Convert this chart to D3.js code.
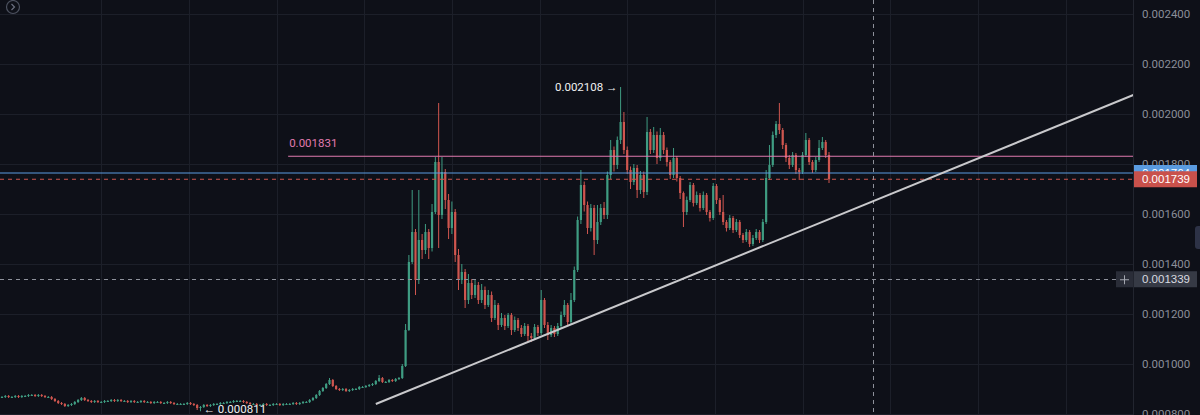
<!DOCTYPE html>
<html>
<head>
<meta charset="utf-8">
<script src="https://cdn.jsdelivr.net/npm/d3@7/dist/d3.min.js"></script>
<style>
    html, body { margin: 0; padding: 0; background: #0e1018; overflow: hidden; }
    svg { display: block; font-family: Roboto, "Liberation Sans", sans-serif; }
</style>
</head>
<body>
<div id="chart"></div>
<script>
// candle data; each candle opens at the previous close
const firstOpen = 0.000868;

const closes = [
    0.000868,0.000872,0.000868,0.000868,0.000872,0.000868,0.000872,0.000872,0.000876,0.000876,
    0.000872,0.000876,0.000872,0.000868,0.000868,0.000860,0.000852,0.000844,0.000840,0.000832,
    0.000836,0.000840,0.000848,0.000856,0.000864,0.000856,0.000852,0.000848,0.000852,0.000848,
    0.000848,0.000852,0.000852,0.000856,0.000852,0.000856,0.000852,0.000852,0.000848,0.000852,
    0.000848,0.000848,0.000852,0.000848,0.000848,0.000844,0.000848,0.000848,0.000844,0.000844,
    0.000848,0.000844,0.000840,0.000840,0.000840,0.000840,0.000844,0.000840,0.000836,0.000824,
    0.000828,0.000836,0.000832,0.000836,0.000840,0.000840,0.000844,0.000844,0.000848,0.000848,
    0.000852,0.000852,0.000852,0.000848,0.000844,0.000840,0.000840,0.000836,0.000836,0.000840,
    0.000836,0.000836,0.000840,0.000840,0.000836,0.000840,0.000840,0.000840,0.000844,0.000840,
    0.000844,0.000848,0.000848,0.000856,0.000864,0.000876,0.000892,0.000904,0.000920,0.000936,
    0.000912,0.000900,0.000896,0.000900,0.000892,0.000896,0.000900,0.000900,0.000908,0.000908,
    0.000912,0.000916,0.000920,0.000932,0.000944,0.000928,0.000928,0.000936,0.000932,0.000940,
    0.000944,0.000992,0.001136,0.001408,0.001528,0.001336,0.001496,0.001456,0.001528,0.001464,
    0.001608,0.001808,0.001596,0.001768,0.001656,0.001544,0.001608,0.001436,0.001336,0.001368,
    0.001256,0.001324,0.001276,0.001316,0.001256,0.001296,0.001236,0.001276,0.001184,0.001236,
    0.001156,0.001184,0.001152,0.001196,0.001136,0.001176,0.001144,0.001120,0.001152,0.001112,
    0.001104,0.001148,0.001124,0.001256,0.001156,0.001116,0.001144,0.001120,0.001152,0.001196,
    0.001236,0.001168,0.001256,0.001376,0.001576,0.001716,0.001636,0.001544,0.001624,0.001496,
    0.001568,0.001624,0.001596,0.001756,0.001856,0.001796,0.001896,0.001968,0.001856,0.001776,
    0.001728,0.001784,0.001696,0.001756,0.001688,0.001928,0.001856,0.001916,0.001824,0.001916,
    0.001856,0.001808,0.001756,0.001824,0.001744,0.001684,0.001608,0.001656,0.001716,0.001644,
    0.001676,0.001624,0.001676,0.001608,0.001584,0.001712,0.001656,0.001608,0.001568,0.001544,
    0.001584,0.001536,0.001568,0.001516,0.001496,0.001528,0.001480,0.001504,0.001528,0.001496,
    0.001568,0.001744,0.001796,0.001916,0.001960,0.001936,0.001876,0.001824,0.001796,0.001836,
    0.001776,0.001768,0.001836,0.001896,0.001808,0.001776,0.001816,0.001864,0.001888,0.001836,0.001739
];

const highs = [
    0.000872,0.000876,0.000876,0.000872,0.000876,0.000876,0.000876,0.000876,0.000880,0.000880,
    0.000880,0.000880,0.000880,0.000876,0.000872,0.000872,0.000864,0.000856,0.000848,0.000844,
    0.000840,0.000844,0.000852,0.000860,0.000868,0.000868,0.000860,0.000856,0.000856,0.000856,
    0.000852,0.000856,0.000856,0.000860,0.000860,0.000860,0.000860,0.000856,0.000856,0.000856,
    0.000856,0.000852,0.000856,0.000856,0.000852,0.000852,0.000852,0.000852,0.000852,0.000848,
    0.000852,0.000852,0.000848,0.000844,0.000844,0.000844,0.000848,0.000848,0.000844,0.000840,
    0.000832,0.000840,0.000840,0.000840,0.000844,0.000844,0.000848,0.000848,0.000852,0.000852,
    0.000856,0.000856,0.000856,0.000856,0.000852,0.000848,0.000844,0.000844,0.000840,0.000844,
    0.000844,0.000840,0.000844,0.000844,0.000844,0.000844,0.000844,0.000844,0.000848,0.000848,
    0.000848,0.000852,0.000852,0.000860,0.000868,0.000880,0.000896,0.000908,0.000924,0.000944,
    0.000940,0.000916,0.000904,0.000904,0.000904,0.000900,0.000904,0.000904,0.000912,0.000912,
    0.000916,0.000920,0.000924,0.000936,0.000956,0.000948,0.000932,0.000940,0.000940,0.000944,
    0.000948,0.001000,0.001160,0.001436,0.001696,0.001540,0.001696,0.001520,0.001560,0.001540,
    0.001640,0.001828,0.002044,0.001828,0.001780,0.001680,0.001650,0.001620,0.001460,0.001400,
    0.001380,0.001360,0.001340,0.001340,0.001328,0.001320,0.001310,0.001296,0.001290,0.001256,
    0.001244,0.001204,0.001196,0.001204,0.001204,0.001190,0.001184,0.001156,0.001164,0.001160,
    0.001124,0.001160,0.001156,0.001296,0.001264,0.001168,0.001156,0.001152,0.001164,0.001210,
    0.001256,0.001244,0.001284,0.001390,0.001590,0.001776,0.001730,0.001650,0.001640,0.001636,
    0.001636,0.001640,0.001648,0.001770,0.001896,0.001870,0.001910,0.002108,0.002008,0.001870,
    0.001790,0.001800,0.001796,0.001772,0.001770,0.001988,0.001940,0.001948,0.001930,0.001944,
    0.001928,0.001866,0.001816,0.001864,0.001832,0.001752,0.001690,0.001670,0.001728,0.001724,
    0.001690,0.001684,0.001690,0.001684,0.001616,0.001724,0.001720,0.001664,0.001676,0.001576,
    0.001596,0.001592,0.001580,0.001576,0.001524,0.001540,0.001536,0.001516,0.001540,0.001536,
    0.001580,0.001776,0.001876,0.001930,0.001972,0.002044,0.001944,0.001884,0.001836,0.001848,
    0.001844,0.001784,0.001848,0.001924,0.001904,0.001816,0.001828,0.001896,0.001908,0.001896,0.001848
];

const lows = [
    0.000864,0.000864,0.000864,0.000864,0.000864,0.000864,0.000864,0.000868,0.000868,0.000872,
    0.000868,0.000868,0.000868,0.000864,0.000864,0.000856,0.000848,0.000840,0.000836,0.000828,
    0.000828,0.000832,0.000836,0.000844,0.000852,0.000852,0.000848,0.000844,0.000844,0.000844,
    0.000844,0.000844,0.000848,0.000848,0.000848,0.000848,0.000848,0.000848,0.000844,0.000844,
    0.000844,0.000844,0.000844,0.000844,0.000844,0.000840,0.000840,0.000844,0.000840,0.000840,
    0.000840,0.000840,0.000836,0.000836,0.000836,0.000836,0.000836,0.000836,0.000832,0.000816,
    0.000811,0.000824,0.000828,0.000828,0.000832,0.000836,0.000836,0.000840,0.000840,0.000844,
    0.000844,0.000848,0.000848,0.000844,0.000840,0.000836,0.000836,0.000832,0.000832,0.000832,
    0.000832,0.000832,0.000832,0.000836,0.000832,0.000832,0.000836,0.000836,0.000836,0.000836,
    0.000836,0.000840,0.000844,0.000844,0.000852,0.000860,0.000872,0.000888,0.000900,0.000916,
    0.000908,0.000896,0.000892,0.000892,0.000888,0.000888,0.000892,0.000896,0.000896,0.000904,
    0.000904,0.000908,0.000912,0.000916,0.000928,0.000924,0.000924,0.000924,0.000928,0.000928,
    0.000936,0.000940,0.000988,0.001132,0.001400,0.001276,0.001320,0.001420,0.001440,0.001420,
    0.001450,0.001600,0.001464,0.001580,0.001620,0.001500,0.001520,0.001408,0.001296,0.001320,
    0.001224,0.001240,0.001260,0.001264,0.001240,0.001244,0.001220,0.001228,0.001168,0.001176,
    0.001136,0.001148,0.001136,0.001144,0.001116,0.001128,0.001132,0.001108,0.001112,0.001092,
    0.001088,0.001096,0.001112,0.001116,0.001144,0.001096,0.001108,0.001108,0.001112,0.001144,
    0.001188,0.001156,0.001160,0.001248,0.001368,0.001560,0.001610,0.001520,0.001530,0.001436,
    0.001480,0.001556,0.001580,0.001580,0.001740,0.001770,0.001780,0.001880,0.001840,0.001760,
    0.001700,0.001716,0.001664,0.001680,0.001664,0.001676,0.001840,0.001844,0.001800,0.001812,
    0.001840,0.001790,0.001740,0.001744,0.001730,0.001660,0.001548,0.001596,0.001648,0.001630,
    0.001636,0.001610,0.001616,0.001596,0.001570,0.001576,0.001640,0.001596,0.001556,0.001530,
    0.001536,0.001524,0.001528,0.001504,0.001484,0.001488,0.001468,0.001472,0.001496,0.001484,
    0.001488,0.001560,0.001736,0.001788,0.001904,0.001920,0.001860,0.001808,0.001780,0.001788,
    0.001760,0.001736,0.001760,0.001828,0.001796,0.001764,0.001768,0.001808,0.001856,0.001824,0.001724
];

// price axis ticks and vertical time grid (in bar index units)
const priceTicks = [0.0024, 0.0022, 0.0020, 0.0018, 0.0016, 0.0014, 0.0012, 0.0010, 0.0008];
const timeGrid = [30, 56.5, 83, 109.5, 136, 162.5, 189, 215.5, 242, 268.5, 295, 321.5];

// drawings on the chart
const horizontalLevel = 0.001831;
const horizontalLevelStartBar = 86.5;
const bidPrice = 0.001764;
const lastPrice = 0.001739;
const crosshairPrice = 0.001339;
const crosshairBar = 263.3;
const trendBars = [113, 342];
const trendPrices = [0.000840, 0.002076];

class CandleChart {
    /**
     * class constructor with basic chart configuration
     */
    constructor(_config, _data) {
        this.config = {
            parentElement: _config.parentElement,
            containerWidth: _config.containerWidth || 1200,
            containerHeight: _config.containerHeight || 415,
            plotRight: _config.plotRight || 1133,
        };
        this.data = _data;
        this.initVis();
    }

    initVis() {
        let vis = this;

        vis.width = vis.config.plotRight;
        vis.height = vis.config.containerHeight;

        vis.svg = d3.select(vis.config.parentElement)
            .append('svg')
            .attr('width', vis.config.containerWidth)
            .attr('height', vis.config.containerHeight);

        vis.svg.append('rect')
            .attr('width', vis.config.containerWidth)
            .attr('height', vis.config.containerHeight)
            .attr('fill', '#0e1018');

        vis.svg.append('clipPath').attr('id', 'plot-clip')
            .append('rect')
            .attr('width', vis.width)
            .attr('height', vis.height);

        // bar index -> x, the last candle sits around x=829
        vis.xScale = d3.scaleLinear()
            .domain([0, 250])
            .range([2, 829]);

        vis.yScale = d3.scaleLinear()
            .domain([0.0008, 0.0024])
            .range([414, 14]);

        vis.gridG = vis.svg.append('g').attr('class', 'grid');
        vis.chart = vis.svg.append('g').attr('clip-path', 'url(#plot-clip)');
        vis.axisG = vis.svg.append('g')
            .attr('class', 'axis y-axis')
            .attr('transform', `translate(${vis.width},0)`);

        vis.yAxis = d3.axisRight(vis.yScale)
            .tickValues(priceTicks)
            .tickFormat(d3.format('.6f'))
            .tickSize(0)
            .tickPadding(9);
    }

    updateVis() {
        let vis = this;

        // build ohlc rows, the open is the previous close
        vis.candles = vis.data.closes.map((c, i) => ({
            i: i,
            open: i === 0 ? firstOpen : vis.data.closes[i - 1],
            close: c,
            high: vis.data.highs[i],
            low: vis.data.lows[i],
        }));

        vis.highIdx = d3.maxIndex(vis.candles, d => d.high);
        vis.lowIdx = d3.minIndex(vis.candles, d => d.low);

        vis.renderVis();
    }

    renderVis() {
        let vis = this;
        const x = vis.xScale, y = vis.yScale;
        const up = '#3f9c82', down = '#cf564f';

        // grid
        vis.gridG.selectAll('.vgrid')
            .data(timeGrid)
            .join('line')
            .attr('class', 'vgrid')
            .attr('x1', d => Math.round(x(d)) + 0.5)
            .attr('x2', d => Math.round(x(d)) + 0.5)
            .attr('y1', 0)
            .attr('y2', vis.height)
            .attr('stroke', '#1c1f29');

        vis.gridG.selectAll('.hgrid')
            .data(priceTicks)
            .join('line')
            .attr('class', 'hgrid')
            .attr('x1', 0)
            .attr('x2', vis.width)
            .attr('y1', d => Math.round(y(d)) + 0.5)
            .attr('y2', d => Math.round(y(d)) + 0.5)
            .attr('stroke', '#1c1f29');

        // candles
        const candleG = vis.chart.append('g').attr('class', 'candles');
        const bars = candleG.selectAll('g')
            .data(vis.candles)
            .join('g')
            .attr('fill', d => d.close >= d.open ? up : down);

        bars.append('rect')
            .attr('x', d => x(d.i) - 0.5)
            .attr('width', 1)
            .attr('y', d => y(d.high))
            .attr('height', d => Math.max(1, y(d.low) - y(d.high)));

        bars.append('rect')
            .attr('x', d => x(d.i) - 1.1)
            .attr('width', 2.2)
            .attr('y', d => y(Math.max(d.open, d.close)))
            .attr('height', d => Math.max(1, Math.abs(y(d.open) - y(d.close))));

        // horizontal ray
        vis.chart.append('line')
            .attr('x1', x(horizontalLevelStartBar))
            .attr('x2', vis.width)
            .attr('y1', y(horizontalLevel))
            .attr('y2', y(horizontalLevel))
            .attr('stroke', '#e07aae')
            .attr('stroke-width', 1);

        vis.chart.append('text')
            .attr('x', x(horizontalLevelStartBar) + 1)
            .attr('y', y(horizontalLevel) - 9)
            .attr('fill', '#e07aae')
            .attr('font-size', 11.5)
            .text(d3.format('.6f')(horizontalLevel));

        // bid line
        vis.chart.append('line')
            .attr('x1', 0).attr('x2', vis.width)
            .attr('y1', y(bidPrice)).attr('y2', y(bidPrice))
            .attr('stroke', '#5a9be0');

        // last price line
        vis.chart.append('line')
            .attr('x1', 0).attr('x2', vis.width)
            .attr('y1', y(lastPrice)).attr('y2', y(lastPrice))
            .attr('stroke', '#cf564f')
            .attr('stroke-dasharray', '4,4');

        // crosshair
        vis.chart.append('line')
            .attr('x1', 0).attr('x2', vis.width)
            .attr('y1', Math.round(y(crosshairPrice)) + 0.5)
            .attr('y2', Math.round(y(crosshairPrice)) + 0.5)
            .attr('stroke', '#8e919b')
            .attr('stroke-dasharray', '4,4');

        vis.chart.append('line')
            .attr('x1', Math.round(x(crosshairBar)) + 0.5)
            .attr('x2', Math.round(x(crosshairBar)) + 0.5)
            .attr('y1', 0).attr('y2', vis.height)
            .attr('stroke', '#8e919b')
            .attr('stroke-dasharray', '4,4');

        // trend line
        vis.chart.append('line')
            .attr('x1', x(trendBars[0])).attr('y1', y(trendPrices[0]))
            .attr('x2', x(trendBars[1])).attr('y2', y(trendPrices[1]))
            .attr('stroke', '#c9c9cc')
            .attr('stroke-width', 2);

        // high / low markers
        const hi = vis.candles[vis.highIdx], lo = vis.candles[vis.lowIdx];
        vis.chart.append('text')
            .attr('x', x(hi.i) - 3)
            .attr('y', y(hi.high))
            .attr('dy', '0.35em')
            .attr('text-anchor', 'end')
            .attr('fill', '#f0f0f0')
            .attr('font-size', 11.5)
            .text(d3.format('.6f')(hi.high) + ' \u2192');

        vis.chart.append('text')
            .attr('x', x(lo.i) + 3)
            .attr('y', y(lo.low) - 2)
            .attr('dy', '0.35em')
            .attr('fill', '#f0f0f0')
            .attr('font-size', 11.5)
            .text('\u2190 ' + d3.format('.6f')(lo.low));

        // price axis
        vis.svg.append('line')
            .attr('x1', vis.width + 0.5).attr('x2', vis.width + 0.5)
            .attr('y1', 0).attr('y2', vis.height)
            .attr('stroke', '#22252f');

        vis.axisG.call(vis.yAxis);
        vis.axisG.select('.domain').remove();
        vis.axisG.selectAll('text')
            .attr('fill', '#8b8e98')
            .attr('font-size', 11.5)
            .attr('font-family', 'Roboto, "Liberation Sans", sans-serif');

        const labelW = 64, labelH = 16;
        const priceLabel = (price, fill, color) => {
            const g = vis.axisG.append('g')
                .attr('transform', `translate(0,${y(price)})`);
            g.append('rect')
                .attr('x', 0).attr('y', -labelH / 2)
                .attr('width', labelW).attr('height', labelH)
                .attr('fill', fill);
            g.append('text')
                .attr('x', 9).attr('dy', '0.35em')
                .attr('fill', color)
                .attr('font-size', 11.5)
                .text(d3.format('.6f')(price));
            return g;
        };

        priceLabel(bidPrice, '#5a9be0', '#ffffff');
        priceLabel(lastPrice, '#c9514b', '#ffffff');
        priceLabel(crosshairPrice, '#363a45', '#d9dbe0');

        // crosshair "+" button
        const plus = vis.svg.append('g')
            .attr('transform', `translate(${vis.width - 17},${y(crosshairPrice)})`);
        plus.append('rect')
            .attr('x', 0).attr('y', -labelH / 2)
            .attr('width', 17).attr('height', labelH)
            .attr('fill', '#2a2d38');
        plus.append('path')
            .attr('d', 'M4,0.5H13M8.5,-4V5')
            .attr('stroke', '#a3a6af')
            .attr('stroke-width', 1);

        // top-left collapse icon
        const icon = vis.svg.append('g').attr('transform', 'translate(13,7)');
        icon.append('circle')
            .attr('r', 6.5)
            .attr('fill', 'none')
            .attr('stroke', '#4d5260')
            .attr('stroke-width', 1.2);
        icon.append('path')
            .attr('d', 'M-1.5,-3L1.5,0L-1.5,3')
            .attr('fill', 'none')
            .attr('stroke', '#6b7080')
            .attr('stroke-width', 1.2);

        // scroll tab at right edge
        vis.svg.append('rect')
            .attr('x', 1195).attr('y', 226)
            .attr('width', 10).attr('height', 23)
            .attr('rx', 3)
            .attr('fill', '#2d3246');
    }
}

const chart = new CandleChart({ parentElement: '#chart' }, { closes, highs, lows });
chart.updateVis();
</script>
</body>
</html>
